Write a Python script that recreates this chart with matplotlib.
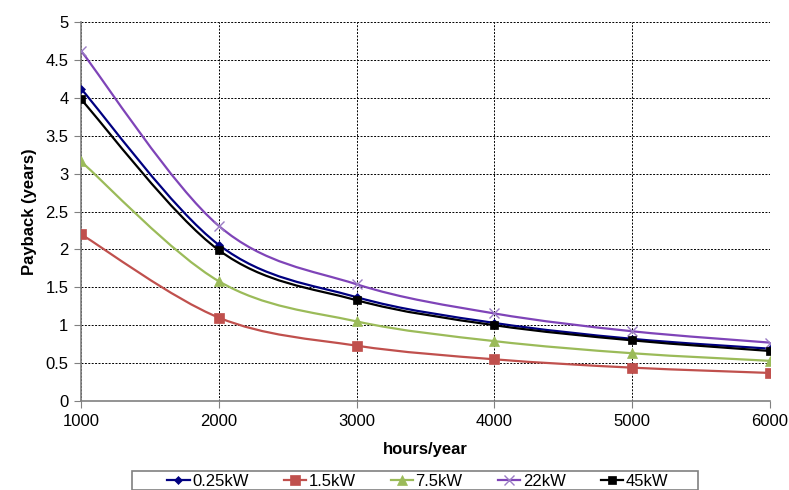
import numpy as np
import matplotlib
matplotlib.use("Agg")
import matplotlib.pyplot as plt
from matplotlib.path import Path
from matplotlib.patches import PathPatch, Rectangle
from matplotlib.lines import Line2D

plt.rcParams["font.family"] = ["Liberation Sans", "DejaVu Sans"]

hours = [1000, 2000, 3000, 4000, 5000, 6000]
series_names = ["0.25kW", "1.5kW", "7.5kW", "22kW", "45kW"]
payback_025 = [4.12, 2.06, 1.37, 1.03, 0.82, 0.69]
payback_15 = [2.20, 1.10, 0.73, 0.55, 0.44, 0.37]
payback_75 = [3.16, 1.58, 1.05, 0.79, 0.63, 0.53]
payback_22 = [4.62, 2.31, 1.54, 1.155, 0.92, 0.77]
payback_45 = [3.98, 1.99, 1.33, 1.00, 0.80, 0.66]
y_ticklabels = ["0", "0.5", "1", "1.5", "2", "2.5", "3", "3.5", "4", "4.5", "5"]


def smooth_path(xs, ys):
    # excel-like smoothed line: cubic bezier through the points
    pts = np.column_stack([xs, ys]).astype(float)
    n = len(pts)
    verts = [pts[0]]
    codes = [Path.MOVETO]
    for i in range(n - 1):
        p0 = pts[i - 1] if i > 0 else pts[i]
        p1 = pts[i]
        p2 = pts[i + 1]
        p3 = pts[i + 2] if i + 2 < n else pts[i + 1]
        c1 = p1 + (p2 - p0) / 6.0
        c2 = p2 - (p3 - p1) / 6.0
        verts += [c1, c2, p2]
        codes += [Path.CURVE4] * 3
    return Path(verts, codes)


fig = plt.figure(figsize=(7.89, 4.90), dpi=100)
ax = fig.add_axes([81 / 789, 89 / 490, 689 / 789, 379 / 490])

styles = [
    (payback_025, "#000080", "#000080", "D", 4),
    (payback_15, "#C0504D", "#C0504D", "s", 7),
    (payback_75, "#9BBB59", "#9BBB59", "^", 7),
    (payback_22, "#7F44B8", "#9A7CC4", "x", 7),
    (payback_45, "#000000", "#000000", "s", 6),
]
lw = 1.6

handles = []
for (vals, color, mcolor, marker, ms), name in zip(styles, series_names):
    patch = PathPatch(smooth_path(hours, vals), facecolor="none",
                      edgecolor=color, lw=lw, zorder=3)
    ax.add_patch(patch)
    mew = 1 if marker == "x" else 0.5
    ax.plot(hours, vals, linestyle="none", marker=marker, markersize=ms,
            color=mcolor, markeredgewidth=mew, zorder=4)
    handles.append(Line2D([0], [0], color=color, lw=lw, marker=marker,
                          markersize=ms, markerfacecolor=mcolor,
                          markeredgecolor=mcolor, markeredgewidth=mew))

ax.set_xlim(1000, 6000)
ax.set_ylim(0, 5)
ax.set_xticks(hours)
ax.set_xticklabels([str(h) for h in hours], fontsize=12)
ax.set_yticks(np.arange(0, 5.01, 0.5))
ax.set_yticklabels(y_ticklabels, fontsize=12)

ax.grid(True, color="black", linestyle=(0, (2, 1.5)), linewidth=0.7)
ax.set_axisbelow(True)
for s in ["top", "right"]:
    ax.spines[s].set_visible(False)
for s in ["left", "bottom"]:
    ax.spines[s].set_color("#808080")
    ax.spines[s].set_linewidth(1.2)
ax.tick_params(direction="out", length=5, color="#808080", pad=4)

ax.set_xlabel("hours/year", fontsize=12, fontweight="bold", labelpad=10)
ax.set_ylabel("Payback (years)", fontsize=12, fontweight="bold", labelpad=6)

# legend box (cut off at the bottom like the original)
fig.patches.append(Rectangle((132 / 789, 0), 566 / 789, 19 / 490,
                             transform=fig.transFigure, facecolor="white",
                             edgecolor="#808080", lw=1.2, zorder=1))
leg = fig.legend(handles, series_names, loc="center left", ncol=5,
                 bbox_to_anchor=(167 / 789, 1 - 481 / 490),
                 borderaxespad=0, fontsize=12, frameon=False, borderpad=0,
                 handlelength=1.35, handletextpad=0.15, columnspacing=2.1)
leg.set_zorder(2)

fig.savefig("out.png", dpi=100)
